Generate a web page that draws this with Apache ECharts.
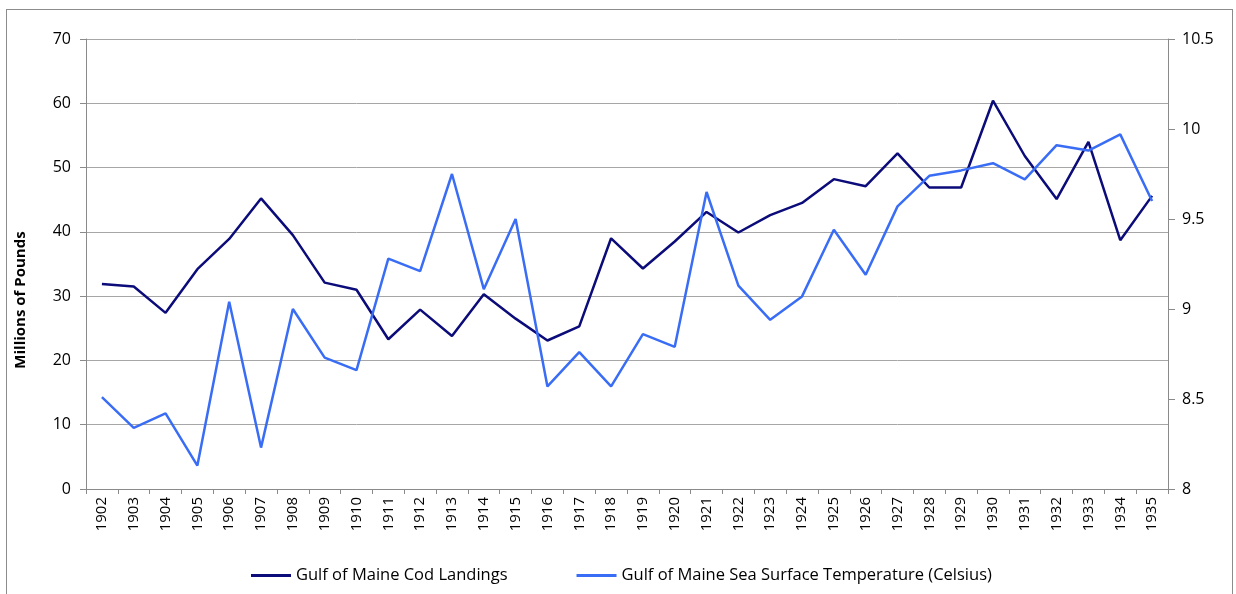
<!DOCTYPE html>
<html>
<head>
<meta charset="utf-8">
<script src="https://cdn.jsdelivr.net/npm/echarts@6/dist/echarts.min.js"></script>
<style>
  html, body { margin: 0; padding: 0; background: #fff; }
  #frame {
    position: absolute; left: 6px; top: 9px; width: 1227px; height: 620px;
    border: 1px solid #8c8c8c; box-sizing: border-box;
  }
  #chart { position: absolute; left: 0; top: 0; width: 1236px; height: 594px; }
</style>
</head>
<body>
<div id="frame"></div>
<div id="chart"></div>
<script>
// years on the x axis
const years = [
  "1902", "1903", "1904", "1905", "1906", "1907", "1908", "1909", "1910", "1911",
  "1912", "1913", "1914", "1915", "1916", "1917", "1918", "1919", "1920", "1921",
  "1922", "1923", "1924", "1925", "1926", "1927", "1928", "1929", "1930", "1931",
  "1932", "1933", "1934", "1935",
];

// millions of pounds (left axis)
const codLandings = [
  31.9, 31.5, 27.4, 34.2, 38.9, 45.2, 39.5, 32.1, 31.0, 23.3,
  27.9, 23.8, 30.3, 26.5, 23.1, 25.3, 39.0, 34.3, 38.5, 43.1,
  39.9, 42.6, 44.5, 48.2, 47.1, 52.2, 46.9, 46.9, 60.4, 51.8,
  45.1, 54.0, 38.7, 45.6,
];

// degrees celsius (right axis)
const seaTemp = [
  8.51, 8.34, 8.42, 8.13, 9.04, 8.23, 9.0, 8.73, 8.66, 9.28,
  9.21, 9.75, 9.11, 9.5, 8.57, 8.76, 8.57, 8.86, 8.79, 9.65,
  9.13, 8.94, 9.07, 9.44, 9.19, 9.57, 9.74, 9.77, 9.81, 9.72,
  9.91, 9.88, 9.97, 9.6,
];

const seriesNames = [
  "Gulf of Maine Cod Landings",
  "Gulf of Maine Sea Surface Temperature (Celsius)",
];

const FONT = "'Open Sans', 'Liberation Sans', sans-serif";
const axisGray = "#8a8a8a";
const gridGray = "#a6a6a6";

const chart = echarts.init(document.getElementById("chart"));

chart.setOption({
  animation: false,
  textStyle: { fontFamily: FONT },
  color: ["#0b0b7a", "#3a6df5"],

  grid: { left: 86, right: 68, top: 39, bottom: 105, containLabel: false },

  legend: {
    bottom: 5,
    left: 246,
    itemWidth: 40,
    itemHeight: 3,
    itemGap: 69,
    icon: "rect",
    textStyle: { fontFamily: FONT, fontSize: 16.5, color: "#000" },
    data: seriesNames,
  },

  xAxis: {
    type: "category",
    data: years,
    boundaryGap: true,
    axisLine: { lineStyle: { color: axisGray } },
    axisTick: { show: true, length: 5, lineStyle: { color: axisGray } },
    axisLabel: {
      rotate: 90,
      interval: 0,
      margin: 8,
      fontSize: 15,
      color: "#000",
      fontFamily: FONT,
    },
    splitLine: { show: false },
  },

  yAxis: [
    {
      type: "value",
      min: 0,
      max: 70,
      interval: 10,
      name: "Millions of Pounds",
      nameLocation: "middle",
      nameGap: 58,
      nameRotate: 90,
      nameTextStyle: {
        fontFamily: FONT,
        fontSize: 15,
        fontWeight: "bold",
        color: "#000",
        padding: [0, 72, 0, 0],
      },
      axisLine: { show: true, lineStyle: { color: axisGray } },
      axisTick: { show: true, length: 6, lineStyle: { color: axisGray } },
      axisLabel: { margin: 15, fontSize: 16, color: "#000", fontFamily: FONT },
      splitLine: { show: true, lineStyle: { color: gridGray, width: 1 } },
    },
    {
      type: "value",
      min: 8,
      max: 10.5,
      interval: 0.5,
      position: "right",
      axisLine: { show: true, lineStyle: { color: axisGray } },
      axisTick: { show: true, length: 7, lineStyle: { color: axisGray } },
      axisLabel: { margin: 14, fontSize: 16, color: "#000", fontFamily: FONT },
      splitLine: { show: false },
    },
  ],

  series: [
    {
      name: seriesNames[0],
      type: "line",
      yAxisIndex: 0,
      data: codLandings,
      showSymbol: false,
      symbol: "none",
      lineStyle: { width: 2.5, color: "#0b0b7a" },
    },
    {
      name: seriesNames[1],
      type: "line",
      yAxisIndex: 1,
      data: seaTemp,
      showSymbol: false,
      symbol: "none",
      lineStyle: { width: 2.5, color: "#3a6df5" },
    },
  ],
});
</script>
</body>
</html>
